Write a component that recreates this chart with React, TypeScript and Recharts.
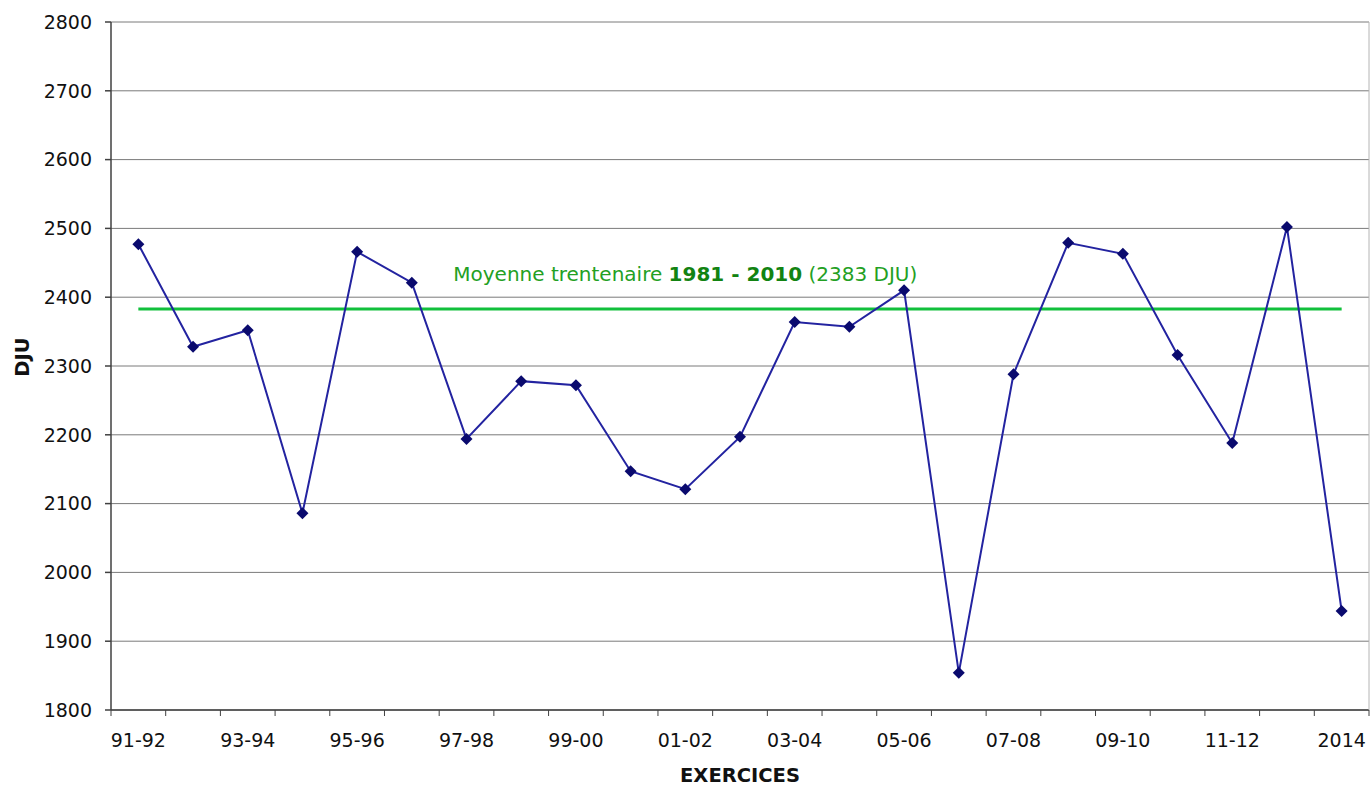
import { LineChart, Line, XAxis, YAxis, CartesianGrid, LabelList } from 'recharts';

const exercices = [
  '91-92', '92-93', '93-94', '94-95', '95-96', '96-97', '97-98', '98-99',
  '99-00', '00-01', '01-02', '02-03', '03-04', '04-05', '05-06', '06-07',
  '07-08', '08-09', '09-10', '10-11', '11-12', '12-13', '2014'
];
const dju = [
  2477, 2328, 2352, 2086, 2466, 2421, 2194, 2278, 2272, 2147, 2121, 2197,
  2364, 2357, 2410, 1854, 2288, 2479, 2463, 2316, 2188, 2502, 1944
];
const moyenne = 2383;
const yTicks = [1800, 1900, 2000, 2100, 2200, 2300, 2400, 2500, 2600, 2700, 2800];

const data = exercices.map((ex, i) => ({ ex, dju: dju[i], moy: moyenne }));

const FONT = '"DejaVu Sans", Verdana, sans-serif';
const W = 1372;
const H = 788;
const M = { top: 22, right: 0, bottom: 0, left: 11 };
const Y_W = 100;
const X_H = 78;
const PLOT_W = W - M.left - M.right - Y_W - 3;
const BAND = PLOT_W / exercices.length;

const Diamond = (props: any) => {
  const { cx, cy } = props;
  if (cx == null || cy == null) return null;
  const r = 6;
  return (
    <polygon
      points={`${cx},${cy - r} ${cx + r},${cy} ${cx},${cy + r} ${cx - r},${cy}`}
      fill="#0a0a6e"
    />
  );
};

const XTick = (props: any) => {
  const { x, y, payload, index } = props;
  const last = index === exercices.length - 1;
  return (
    <g>
      <line x1={x - BAND / 2} x2={x - BAND / 2} y1={y} y2={y + 6} stroke="#404040" />
      {last && <line x1={x + BAND / 2} x2={x + BAND / 2} y1={y} y2={y + 6} stroke="#404040" />}
      {index % 2 === 0 && (
        <text x={x} y={y + 37} textAnchor="middle" fontSize={19} fontFamily={FONT} fill="#111">
          {payload.value}
        </text>
      )}
    </g>
  );
};

const MoyLabel = (props: any) => {
  const { x, y, index } = props;
  if (index !== 10) return null;
  return (
    <text x={x} y={y - 28} textAnchor="middle" fontSize={20} fontFamily={FONT} fill="#23a023">
      Moyenne trentenaire{' '}
      <tspan fontWeight="bold" fill="#128312">1981 - 2010</tspan>
      {' '}(2383 DJU)
    </text>
  );
};

export default function App() {
  return (
    <div style={{ position: 'absolute', left: 0, top: 0, background: '#fff' }}>
      <LineChart width={W} height={H} data={data} margin={M}>
        <CartesianGrid vertical={false} stroke="#7a7a7a" horizontalValues={yTicks} />
        <XAxis
          dataKey="ex"
          height={X_H}
          interval={0}
          padding={{ left: BAND / 2, right: BAND / 2 }}
          tickLine={false}
          tickSize={0}
          tickMargin={0}
          tick={<XTick />}
          stroke="#404040"
          strokeWidth={1.5}
          label={{
            content: (p: any) => (
              <text
                x={p.viewBox.x + p.viewBox.width / 2}
                y={p.viewBox.y + 72}
                textAnchor="middle"
                fontSize={19.5}
                fontWeight="bold"
                fontFamily={FONT}
                fill="#111"
              >
                EXERCICES
              </text>
            )
          }}
        />
        <YAxis
          width={Y_W}
          domain={[1800, 2800]}
          ticks={yTicks}
          interval={0}
          tickSize={6}
          tickMargin={13}
          stroke="#404040"
          strokeWidth={1.5}
          tick={{ fill: '#111', fontSize: 19, fontFamily: FONT }}
          label={{
            content: (p: any) => (
              <text
                x={p.viewBox.x + 18}
                y={357}
                transform={`rotate(-90, ${p.viewBox.x + 18}, 357)`}
                textAnchor="middle"
                fontSize={19.5}
                fontWeight="bold"
                fontFamily={FONT}
                fill="#111"
              >
                DJU
              </text>
            )
          }}
        />
        <YAxis
          yAxisId="r"
          orientation="right"
          width={3}
          domain={[1800, 2800]}
          tick={false}
          tickLine={false}
          stroke="#b4b4b4"
        />
        <Line
          dataKey="moy"
          stroke="#12c03c"
          strokeWidth={3}
          dot={false}
          isAnimationActive={false}
        >
          <LabelList dataKey="moy" content={<MoyLabel />} />
        </Line>
        <Line
          dataKey="dju"
          stroke="#2323a0"
          strokeWidth={2}
          dot={<Diamond />}
          activeDot={false}
          isAnimationActive={false}
        />
      </LineChart>
    </div>
  );
}
